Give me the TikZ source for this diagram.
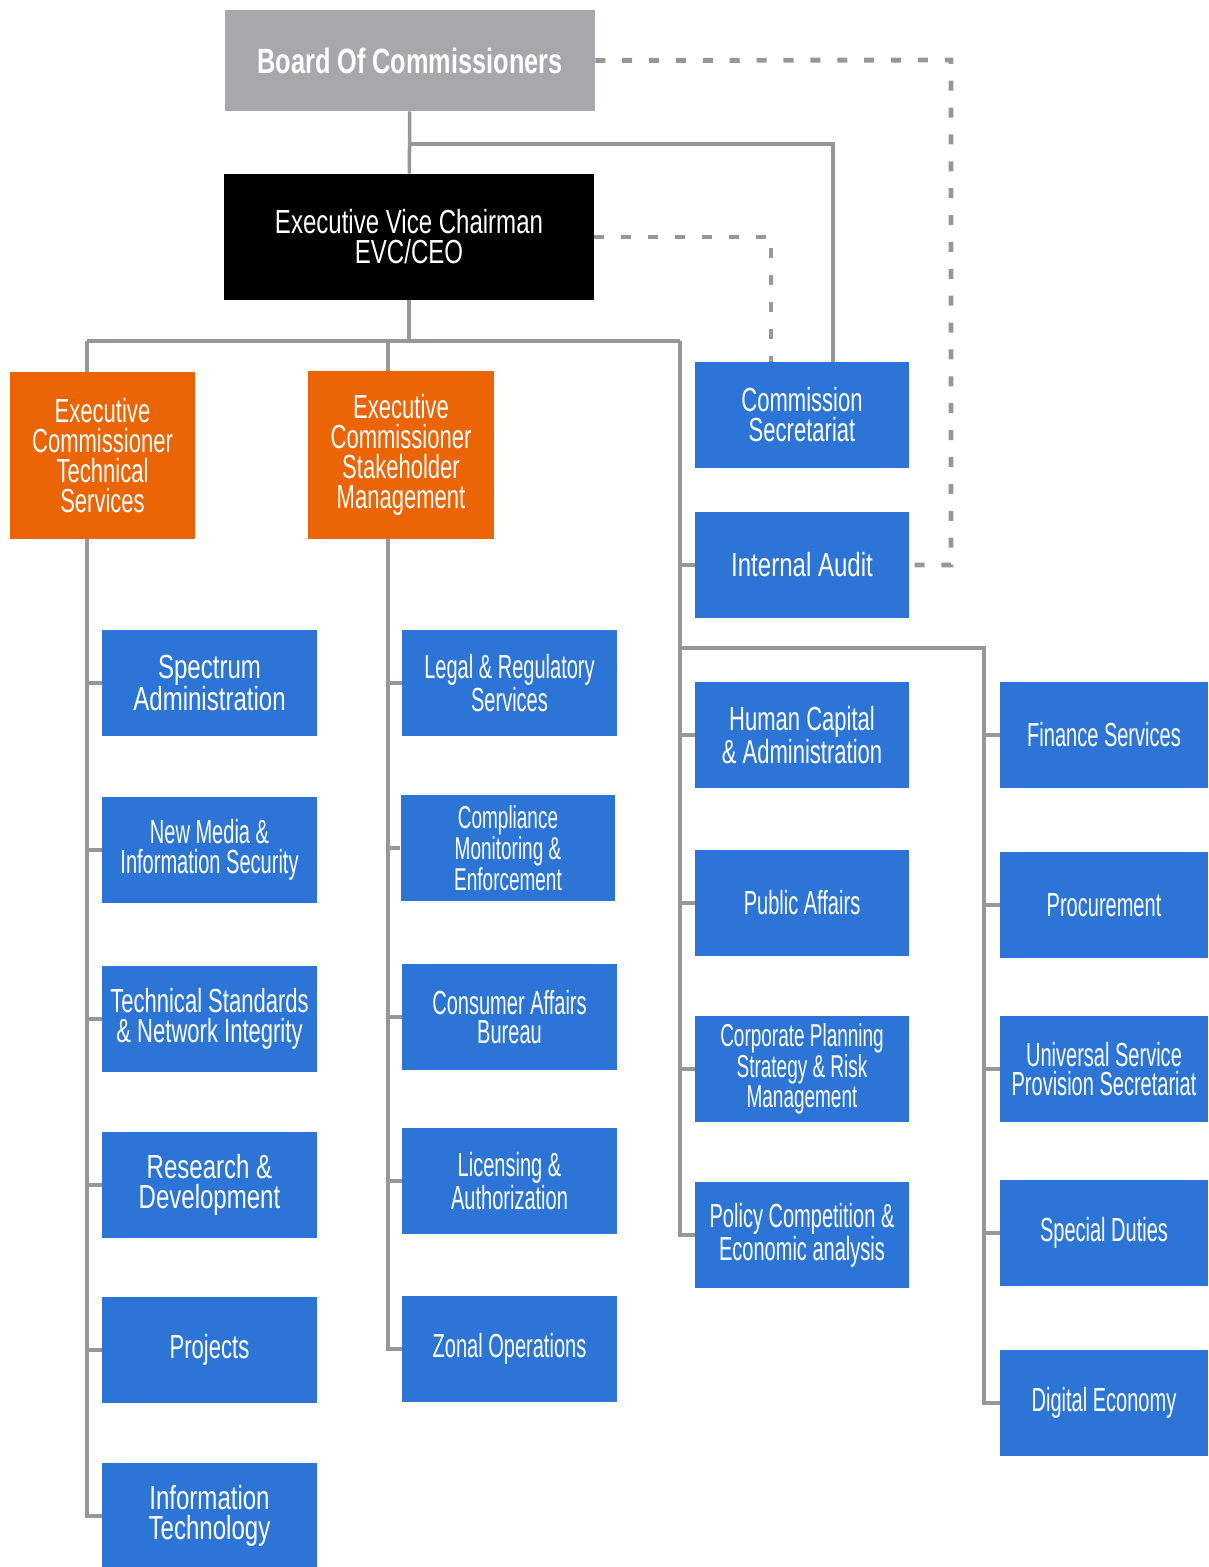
\documentclass[tikz,border=0pt]{standalone}
\usepackage{fontspec}
\setmainfont{Liberation Sans}
\newfontfamily\wfont{Liberation Sans}[FakeStretch=0.72]
\newfontfamily\mfont{Liberation Sans}[FakeStretch=0.66]
\newfontfamily\nfont{Liberation Sans}[FakeStretch=0.6]
\definecolor{unitblue}{RGB}{44,117,214}
\definecolor{ecorange}{RGB}{235,100,5}
\definecolor{boardgray}{RGB}{167,168,172}
\definecolor{linegray}{RGB}{150,151,155}
\tikzset{
  unit/.style={rectangle,fill=unitblue,text=white,inner sep=0pt,align=center,
    minimum width=4.3cm,minimum height=2.12cm},
  wide/.style={font=\wfont\fontsize{19}{17}\selectfont},
  mid/.style={font=\mfont\fontsize{19}{17}\selectfont},
  narrow/.style={font=\nfont\fontsize{19}{17}\selectfont},
  small/.style={font=\nfont\fontsize{18}{15}\selectfont},
  conn/.style={draw=linegray,line width=2pt},
  dashline/.style={draw=linegray,line width=2.8pt,dash pattern=on 5.7pt off 9.6pt}
}
\begin{document}
\begin{tikzpicture}[x=0.02cm,y=-0.02cm]
\useasboundingbox (0,0) rectangle (1208,1567);

% top
\node[rectangle,fill=boardgray,text=white,minimum width=7.4cm,minimum height=2.02cm,
  font=\wfont\bfseries\fontsize{20}{17}\selectfont] (board) at (410,60.5) {Board Of Commissioners};
\node[rectangle,fill=black,text=white,minimum width=7.4cm,minimum height=2.52cm,align=center,wide] (evc) at (409,237)
  {Executive Vice Chairman\\EVC/CEO};

% executive commissioners
\node[rectangle,fill=ecorange,text=white,minimum width=3.7cm,minimum height=3.34cm,align=center,mid] (ects) at (102.5,455.5)
  {Executive\\Commissioner\\Technical\\Services};
\node[rectangle,fill=ecorange,text=white,minimum width=3.72cm,minimum height=3.36cm,align=center,mid] (ecsm) at (401,455)
  {Executive\\Commissioner\\Stakeholder\\Management};

\node[unit,mid,minimum width=4.28cm] (sec) at (802,415) {Commission\\Secretariat};
\node[unit,wide,minimum width=4.28cm] (audit) at (802,565) {Internal Audit};

% technical services
\node[unit,wide] (spec) at (209.5,683) {Spectrum\\Administration};
\node[unit,narrow] (media) at (209.5,850) {New Media \&\\Information Security};
\node[unit,mid] (std) at (209.5,1019) {Technical Standards\\\& Network Integrity};
\node[unit,wide] (rnd) at (209.5,1185) {Research \&\\Development};
\node[unit,mid] (proj) at (209.5,1350) {Projects};
\node[unit,wide] (it) at (209.5,1516) {Information\\Technology};

% stakeholder management
\node[unit,narrow] (legal) at (509.5,683) {Legal \& Regulatory\\Services};
\node[unit,small] (comp) at (508,848) {Compliance\\Monitoring \&\\Enforcement};
\node[unit,narrow] (cons) at (509.5,1017) {Consumer Affairs\\Bureau};
\node[unit,narrow] (lic) at (509.5,1181) {Licensing \&\\Authorization};
\node[unit,narrow] (zonal) at (509.5,1349) {Zonal Operations};

% evc units
\node[unit,mid,minimum width=4.28cm] (hc) at (802,735) {Human Capital\\\& Administration};
\node[unit,narrow,minimum width=4.28cm] (pa) at (802,903) {Public Affairs};
\node[unit,small,minimum width=4.28cm] (corp) at (802,1069) {Corporate Planning\\Strategy \& Risk\\Management};
\node[unit,narrow,minimum width=4.28cm] (pol) at (802,1235) {Policy Competition \&\\Economic analysis};

\node[unit,narrow,minimum width=4.16cm] (fin) at (1104,735) {Finance Services};
\node[unit,narrow,minimum width=4.16cm] (proc) at (1104,905) {Procurement};
\node[unit,narrow,minimum width=4.16cm] (usp) at (1104,1069) {Universal Service\\Provision Secretariat};
\node[unit,narrow,minimum width=4.16cm] (spd) at (1104,1233) {Special Duties};
\node[unit,narrow,minimum width=4.16cm] (dig) at (1104,1403) {Digital Economy};

% solid lines
\coordinate (top) at (410,144);
\coordinate (lspine) at (87,341);
\coordinate (mspine) at (388,341);
\coordinate (rspine) at (680,341);
\coordinate (fspine) at (984,648);
\draw[conn] (board) -- (evc);
\draw[conn] (top) -| ([xshift=0.62cm]sec.north);
\draw[conn] (evc) -- (evc |- rspine);
\draw[conn] (lspine) -- (rspine);
\draw[conn] (lspine) -- (lspine |- ects.north);
\draw[conn] (mspine) -- (mspine |- ecsm.north);
\draw[conn] (lspine |- ects.south) |- (it.west);
\foreach \n in {spec,media,std,rnd,proj} \draw[conn] (lspine |- \n.west) -- (\n.west);
\draw[conn] (mspine |- ecsm.south) |- (zonal.west);
\foreach \n in {legal,comp,cons,lic} \draw[conn] (mspine |- \n.west) -- (\n.west);
\draw[conn] (rspine) |- (pol.west);
\foreach \n in {audit,hc,pa,corp} \draw[conn] (rspine |- \n.west) -- (\n.west);
\draw[conn] (rspine |- fspine) -- (fspine) |- (dig.west);
\foreach \n in {fin,proc,usp,spd} \draw[conn] (fspine |- \n.west) -- (\n.west);

% dashed lines
\coordinate (dcorner) at (951,60);
\draw[dashline] (board.east) -- (dcorner) |- (audit.east);
\draw[dashline] (evc.east) -| ([xshift=-0.62cm]sec.north);
\end{tikzpicture}
\end{document}
